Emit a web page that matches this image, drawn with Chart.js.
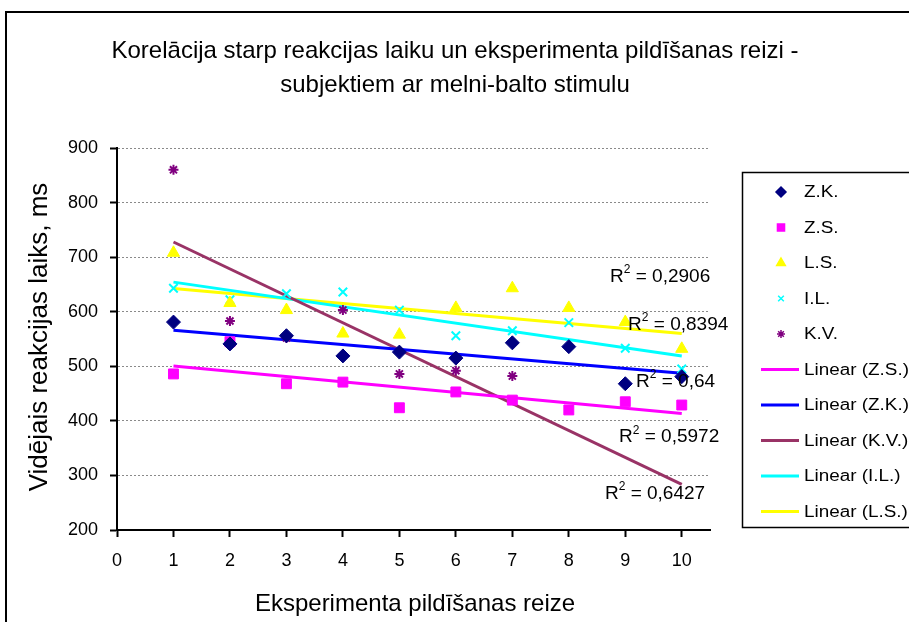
<!DOCTYPE html>
<html>
<head>
<meta charset="utf-8">
<script src="https://cdn.jsdelivr.net/npm/chart.js@4.4.1/dist/chart.umd.min.js"></script>
<style>
  html, body { margin: 0; padding: 0; background: #fff; overflow: hidden; }
</style>
</head>
<body>
<canvas id="korelacija" width="909" height="622"></canvas>
<script>
// experiment run numbers (x axis)
const runs = [1, 2, 3, 4, 5, 6, 7, 8, 9, 10];

// mean reaction time per subject, ms
const zk = [581, 541, 556, 519, 526, 515, 543, 536, 468, 481];
const zs = [486, 545, 468, 471, 424, 453, 438, 420, 435, 429];
const ls = [708, 616, 603, 560, 558, 607, 643, 607, 581, 532];
const il = [643, 622, 633, 636, 603, 556, 565, 580, 533, 495];
const kv = [860, 583, 552, 603, 486, 492, 482]; // only runs 1-7

// R squared of each trendline, as printed on the chart
const r2Labels = ["0,2906", "0,8394", "0,64", "0,5972", "0,6427"];

const xTicks = [0, 1, 2, 3, 4, 5, 6, 7, 8, 9, 10];
const yTicks = [200, 300, 400, 500, 600, 700, 800, 900];

const FONT = "'Liberation Sans', Arial, sans-serif";

function points(values) {
  return values.map((v, i) => ({ x: runs[i], y: v }));
}

// least squares line, drawn from run 1 to run 10 like Excel does
function trend(values) {
  const xs = runs.slice(0, values.length);
  const n = values.length;
  const mx = xs.reduce((a, b) => a + b, 0) / n;
  const my = values.reduce((a, b) => a + b, 0) / n;
  let sxy = 0, sxx = 0;
  xs.forEach((x, i) => {
    sxy += (x - mx) * (values[i] - my);
    sxx += (x - mx) * (x - mx);
  });
  const b = sxy / sxx;
  const a = my - b * mx;
  return [runs[0], runs[runs.length - 1]].map(x => ({ x: x, y: a + b * x }));
}

function scatterSet(label, values, style, radius, fill, stroke, width) {
  return {
    label: label,
    data: points(values),
    pointStyle: style,
    pointRadius: radius,
    backgroundColor: fill,
    borderColor: stroke,
    borderWidth: width,
    showLine: false,
    order: 0,
  };
}

function trendSet(label, values, color) {
  return {
    label: label,
    data: trend(values),
    showLine: true,
    borderColor: color,
    backgroundColor: color,
    borderWidth: 3,
    pointRadius: 0,
    order: 1,
  };
}

const datasets = [
  scatterSet("Z.K.", zk, "rectRot", 7, "#000080", "#000080", 1),
  scatterSet("Z.S.", zs, "rect", 7, "#FF00FF", "#FF00FF", 1),
  scatterSet("L.S.", ls, "triangle", 7, "#FFFF00", "#FFFF00", 1),
  scatterSet("I.L.", il, "crossRot", 6, "#00FFFF", "#00FFFF", 2),
  scatterSet("K.V.", kv, "star", 5, "#800080", "#800080", 2),
  trendSet("Linear (Z.S.)", zs, "#FF00FF"),
  trendSet("Linear (Z.K.)", zk, "#0000FF"),
  trendSet("Linear (K.V.)", kv, "#993366"),
  trendSet("Linear (I.L.)", il, "#00FFFF"),
  trendSet("Linear (L.S.)", ls, "#FFFF00"),
];

// text a bit wider than the font draws it, like the original export
function wideText(ctx, text, x, y, sx) {
  ctx.save();
  ctx.translate(x, y);
  ctx.scale(sx, 1);
  ctx.fillText(text, 0, 0);
  ctx.restore();
}

// frame, title, axis titles, legend box and R^2 labels
const decorations = {
  id: "decorations",
  beforeDraw(chart) {
    const ctx = chart.ctx;
    ctx.save();
    ctx.fillStyle = "#fff";
    ctx.fillRect(0, 0, chart.width, chart.height);
    ctx.strokeStyle = "#000";
    ctx.lineWidth = 2;
    ctx.strokeRect(6, 12, 1200, 1200);
    ctx.restore();
  },
  afterDraw(chart) {
    const ctx = chart.ctx;
    const xs = chart.scales.x, ys = chart.scales.y;
    ctx.save();
    ctx.fillStyle = "#000";
    ctx.textAlign = "center";
    ctx.textBaseline = "alphabetic";
    ctx.font = "24px " + FONT;
    ctx.fillText("Korelācija starp reakcijas laiku un eksperimenta pildīšanas reizi -", 455, 58);
    ctx.fillText("subjektiem ar melni-balto stimulu", 455, 92);

    ctx.textBaseline = "middle";
    ctx.fillText("Eksperimenta pildīšanas reize", 415, 604);
    ctx.save();
    ctx.translate(40, 337);
    ctx.rotate(-Math.PI / 2);
    ctx.font = "26px " + FONT;
    ctx.fillText("Vidējais reakcijas laiks, ms", 0, 0);
    ctx.restore();

    // R^2 labels
    const spots = [[8.73, 664], [9.05, 576], [9.19, 471], [8.89, 370], [8.64, 266]];
    ctx.textAlign = "left";
    ctx.textBaseline = "middle";
    r2Labels.forEach((txt, i) => {
      let px = xs.getPixelForValue(spots[i][0]);
      const py = ys.getPixelForValue(spots[i][1]);
      ctx.font = "19px " + FONT;
      ctx.fillText("R", px, py);
      px += ctx.measureText("R").width;
      ctx.font = "12px " + FONT;
      ctx.fillText("2", px, py - 7);
      px += ctx.measureText("2").width;
      ctx.font = "19px " + FONT;
      ctx.fillText(" = " + txt, px, py);
    });

    // legend
    ctx.fillStyle = "#fff";
    ctx.fillRect(742, 172, 200, 356);
    ctx.strokeStyle = "#000";
    ctx.lineWidth = 1.5;
    ctx.strokeRect(742.5, 172.5, 300, 355);
    chart.data.datasets.forEach((ds, i) => {
      const y = 192 + i * 35.5;
      if (ds.showLine) {
        ctx.strokeStyle = ds.borderColor;
        ctx.lineWidth = 3;
        ctx.beginPath();
        ctx.moveTo(761, y);
        ctx.lineTo(799, y);
        ctx.stroke();
      } else {
        ctx.fillStyle = ds.backgroundColor;
        ctx.strokeStyle = ds.borderColor;
        Chart.helpers.drawPoint(ctx, {
          pointStyle: ds.pointStyle,
          radius: Math.max(ds.pointRadius - 2, 4),
          rotation: 0,
          borderWidth: ds.borderWidth,
        }, 781, y);
      }
      ctx.fillStyle = "#000";
      ctx.font = "16px " + FONT;
      ctx.textAlign = "left";
      wideText(ctx, ds.label, 804, y + 1, 1.18);
    });
    ctx.restore();
  },
};

const ctx = document.getElementById("korelacija").getContext("2d");

new Chart(ctx, {
  type: "scatter",
  data: { datasets: datasets },
  plugins: [decorations],
  options: {
    responsive: false,
    animation: false,
    events: [],
    layout: { padding: { top: 148, right: 199, left: 0, bottom: 0 } },
    plugins: {
      legend: { display: false },
      title: { display: false },
      tooltip: { enabled: false },
    },
    scales: {
      x: {
        type: "linear",
        min: 0,
        max: 10.5,
        afterFit: scale => { scale.height = 92; },
        afterBuildTicks: scale => {
          scale.ticks = xTicks.map(v => ({ value: v }));
        },
        ticks: {
          color: "#000",
          padding: 13,
          autoSkip: false,
          maxRotation: 0,
          font: { family: FONT, size: 18 },
        },
        grid: {
          drawOnChartArea: false,
          tickLength: 7,
          tickColor: "#000",
          tickWidth: 2,
        },
        border: { color: "#000", width: 2 },
      },
      y: {
        min: 200,
        max: 900,
        afterFit: scale => { scale.width = 117; },
        afterBuildTicks: scale => {
          scale.ticks = yTicks.map(v => ({ value: v }));
        },
        ticks: {
          color: "#000",
          padding: 12,
          font: { family: FONT, size: 18 },
        },
        grid: {
          color: "#8a8a8a",
          lineWidth: 1,
          tickLength: 7,
          tickColor: "#000",
          tickWidth: 2,
          tickBorderDash: [],
        },
        border: { color: "#000", width: 2, dash: [2, 2] },
      },
    },
  },
});
</script>
</body>
</html>
